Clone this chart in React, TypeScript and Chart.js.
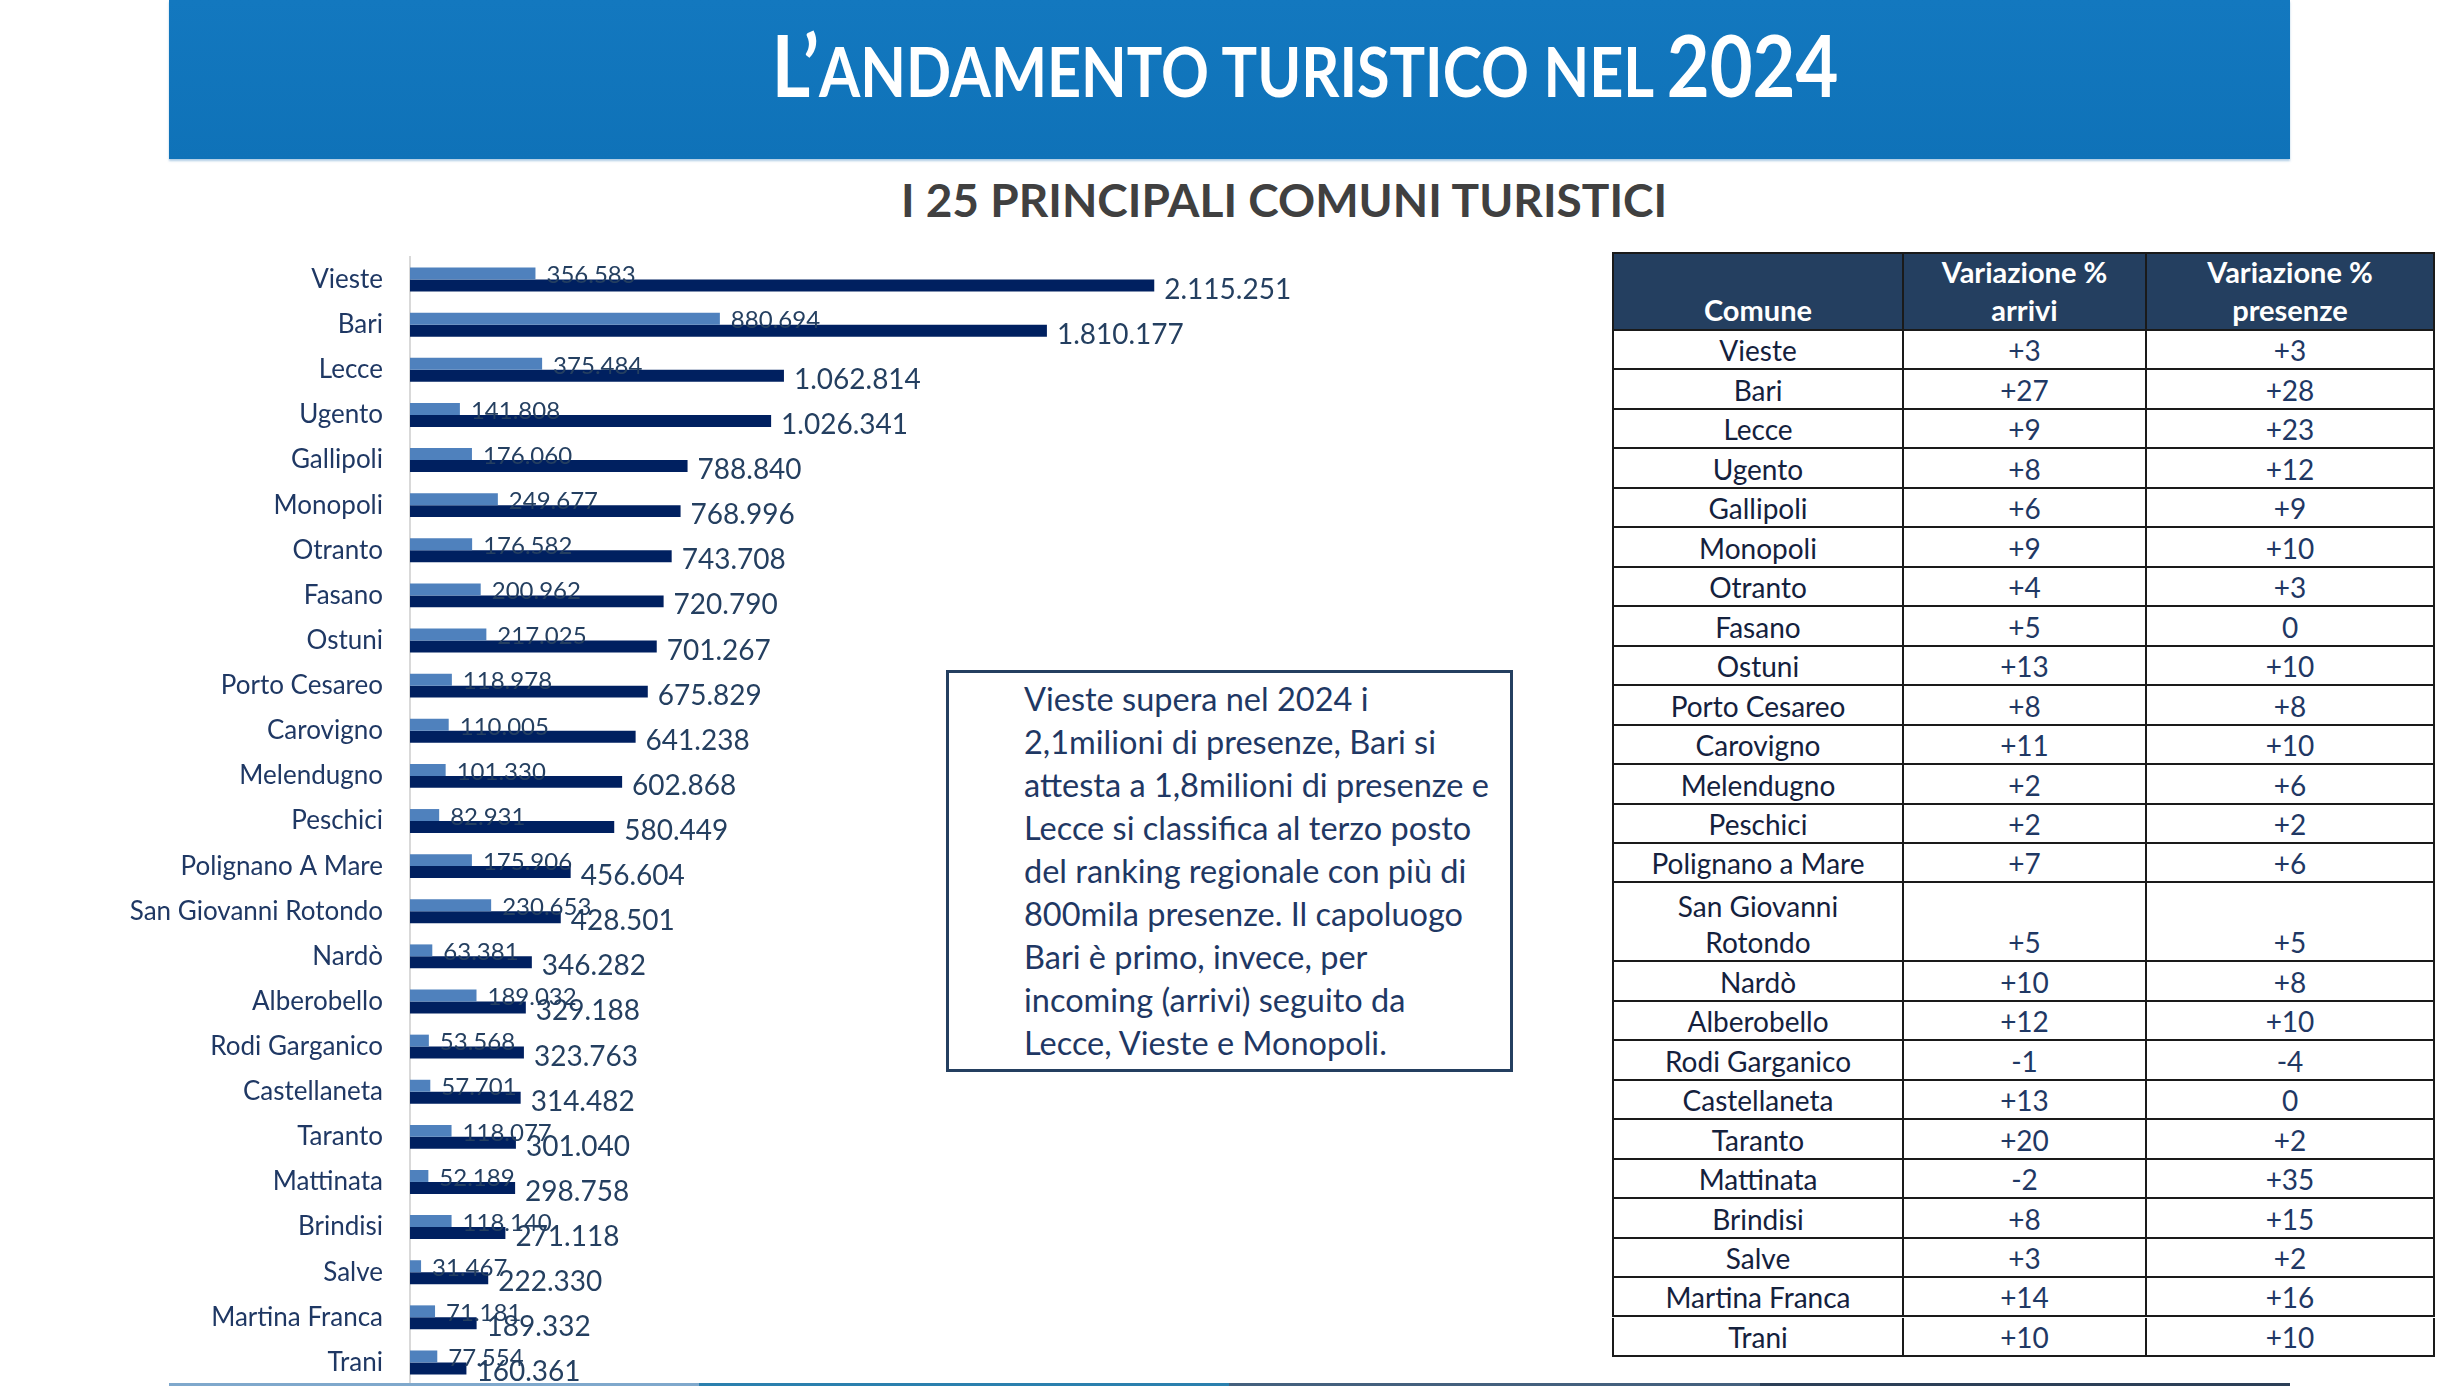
import React, { useEffect, useRef } from "react";
import { Chart, registerables } from "chart.js";

Chart.register(...registerables);

// ---------- DATA ----------
const comuni = [
  "Vieste", "Bari", "Lecce", "Ugento", "Gallipoli", "Monopoli", "Otranto", "Fasano",
  "Ostuni", "Porto Cesareo", "Carovigno", "Melendugno", "Peschici", "Polignano A Mare",
  "San Giovanni Rotondo", "Nardò", "Alberobello", "Rodi Garganico", "Castellaneta",
  "Taranto", "Mattinata", "Brindisi", "Salve", "Martina Franca", "Trani",
];
const arrivi = [
  356583, 880694, 375484, 141808, 176060, 249677, 176582, 200962, 217025, 118978,
  110005, 101330, 82931, 175906, 230653, 63381, 189032, 53568, 57701, 118077,
  52189, 118140, 31467, 71181, 77554,
];
const presenze = [
  2115251, 1810177, 1062814, 1026341, 788840, 768996, 743708, 720790, 701267, 675829,
  641238, 602868, 580449, 456604, 428501, 346282, 329188, 323763, 314482, 301040,
  298758, 271118, 222330, 189332, 160361,
];

const tableComuni = [
  "Vieste", "Bari", "Lecce", "Ugento", "Gallipoli", "Monopoli", "Otranto", "Fasano",
  "Ostuni", "Porto Cesareo", "Carovigno", "Melendugno", "Peschici", "Polignano a Mare",
  "San Giovanni Rotondo", "Nardò", "Alberobello", "Rodi Garganico", "Castellaneta",
  "Taranto", "Mattinata", "Brindisi", "Salve", "Martina Franca", "Trani",
];
const varArrivi = [3, 27, 9, 8, 6, 9, 4, 5, 13, 8, 11, 2, 2, 7, 5, 10, 12, -1, 13, 20, -2, 8, 3, 14, 10];
const varPresenze = [3, 28, 23, 12, 9, 10, 3, 0, 10, 8, 10, 6, 2, 6, 5, 8, 10, -4, 0, 2, 35, 15, 2, 16, 10];

const titleFirst = "L’";
const titleMiddle = "ANDAMENTO TURISTICO NEL";
const titleYear = "2024";
const subtitleText = "I 25 PRINCIPALI COMUNI TURISTICI";
const noteLines = [
  "Vieste supera nel 2024 i",
  "2,1milioni di presenze, Bari si",
  "attesta a 1,8milioni di presenze e",
  "Lecce si classifica al terzo posto",
  "del ranking regionale con più di",
  "800mila presenze. Il capoluogo",
  "Bari è primo, invece, per",
  "incoming (arrivi) seguito da",
  "Lecce, Vieste e Monopoli.",
];

// ---------- HELPERS ----------
const fmtIt = (v: number) => String(v).replace(/\B(?=(\d{3})+(?!\d))/g, ".");
const fmtVar = (v: number) => (v > 0 ? "+" + v : String(v));

const FONT = "Lato, 'Noto Sans', sans-serif";
const NAVY = "#1F3864";

const barLabelPlugin = {
  id: "barLabels",
  afterDatasetsDraw(chart: any) {
    const ctx = chart.ctx;
    chart.data.datasets.forEach((ds: any, di: number) => {
      const meta = chart.getDatasetMeta(di);
      meta.data.forEach((el: any, i: number) => {
        ctx.save();
        ctx.font = di === 0 ? "24px Lato" : "28px Lato";
        ctx.fillStyle = "#243F60";
        ctx.textAlign = "left";
        ctx.textBaseline = "middle";
        ctx.fillText(fmtIt(ds.data[i]), el.x + (di === 0 ? 11 : 10), el.y + (di === 0 ? 2 : 4));
        ctx.restore();
      });
    });
  },
};

function BarChart() {
  const ref = useRef<HTMLCanvasElement | null>(null);
  useEffect(() => {
    if (!ref.current) return;
    const chart = new Chart(ref.current, {
      type: "bar",
      data: {
        labels: comuni,
        datasets: [
          {
            label: "Arrivi",
            data: arrivi,
            backgroundColor: "#4F81BD",
            barPercentage: 1,
            categoryPercentage: 0.53,
          },
          {
            label: "Presenze",
            data: presenze,
            backgroundColor: "#002060",
            barPercentage: 1,
            categoryPercentage: 0.53,
          },
        ],
      },
      options: {
        indexAxis: "y",
        animation: false,
        responsive: false,
        maintainAspectRatio: false,
        layout: { padding: { top: 17, bottom: 2, left: 0, right: 0 } },
        plugins: { legend: { display: false }, tooltip: { enabled: false } },
        scales: {
          x: { display: false, min: 0, max: 2700000 },
          y: {
            grid: { display: false, drawTicks: false },
            border: { display: true, color: "#D9D9D9", width: 2 },
            ticks: { padding: 27, color: NAVY, font: { family: "Lato", size: 26 } },
            afterFit: (s: any) => {
              s.width = 310;
              s.paddingTop = 0;
              s.paddingBottom = 0;
            },
          },
        },
      } as any,
      plugins: [barLabelPlugin],
    });
    return () => chart.destroy();
  }, []);
  return (
    <canvas
      ref={ref}
      width={1260}
      height={1147}
      style={{ position: "absolute", left: 100, top: 240, width: 1260, height: 1147 }}
    />
  );
}

function Table() {
  const colW = [292, 243, 288];
  const left = 1612;
  const top = 252;
  const headH = 79;
  const baseH = 39.46;
  const rowH = (name: string) => (name.length > 17 ? baseH * 2 : baseH);
  const border = "2px solid #1a1a1a";
  const cell = (w: number, extra: any = {}) => ({
    width: w,
    height: "100%",
    boxSizing: "border-box" as const,
    borderRight: border,
    display: "flex",
    alignItems: "flex-end",
    justifyContent: "center",
    textAlign: "center" as const,
    ...extra,
  });
  let y = top + headH;
  const rows = tableComuni.map((n, i) => {
    const h = rowH(n);
    const r = (
      <div
        key={n}
        style={{
          position: "absolute",
          left,
          top: y,
          width: 823,
          height: h,
          display: "flex",
          borderLeft: border,
          borderBottom: border,
          boxSizing: "border-box",
          fontSize: 28,
          lineHeight: "36px",
        }}
      >
        <div style={cell(colW[0] - 2, { color: "#14213D" })}>
          <span style={{ display: "inline-block", maxWidth: 250 }}>{n}</span>
        </div>
        <div style={cell(colW[1], { color: NAVY })}>{fmtVar(varArrivi[i])}</div>
        <div style={cell(colW[2], { color: NAVY })}>{fmtVar(varPresenze[i])}</div>
      </div>
    );
    y += h;
    return r;
  });
  return (
    <div style={{ fontFamily: FONT }}>
      <div
        style={{
          position: "absolute",
          left,
          top,
          width: 823,
          height: headH,
          display: "flex",
          background: "#243F60",
          border: border,
          borderRight: "none",
          boxSizing: "border-box",
          color: "#fff",
          fontWeight: 700,
          fontSize: 29,
          lineHeight: "38px",
        }}
      >
        <div style={cell(colW[0] - 2)}>Comune</div>
        <div style={cell(colW[1])}>Variazione %<br />arrivi</div>
        <div style={cell(colW[2])}>Variazione %<br />presenze</div>
      </div>
      {rows}
    </div>
  );
}

export default function App() {
  return (
    <div
      style={{
        position: "absolute",
        left: 0,
        top: 0,
        width: 2461,
        height: 1387,
        overflow: "hidden",
        background: "#fff",
        fontFamily: FONT,
      }}
    >
      <div
        style={{
          position: "absolute",
          left: 169,
          top: 0,
          width: 2121,
          height: 159,
          background: "linear-gradient(#1378BF, #0F72B8)",
          boxShadow: "0 2px 2px rgba(120,170,210,0.6)",
        }}
      />
      <div
        style={{
          position: "absolute",
          left: 305,
          top: 14,
          width: 2000,
          textAlign: "center",
          color: "#fff",
          fontWeight: 700,
          lineHeight: "100px",
          whiteSpace: "nowrap",
          transform: "scaleX(0.86)",
          transformOrigin: "50% 50%",
        }}
      >
        <span style={{ fontSize: 86 }}>{titleFirst}</span>
        <span style={{ fontSize: 69 }}>{titleMiddle} </span>
        <span style={{ fontSize: 86 }}>{titleYear}</span>
      </div>
      <div
        style={{
          position: "absolute",
          left: 169,
          top: 172,
          width: 2230,
          textAlign: "center",
          color: "#404040",
          fontWeight: 700,
          fontSize: 46,
          lineHeight: "56px",
        }}
      >
        {subtitleText}
      </div>

      <BarChart />

      <div
        style={{
          position: "absolute",
          left: 946,
          top: 670,
          width: 567,
          height: 402,
          boxSizing: "border-box",
          border: "3px solid #243F60",
          background: "#fff",
          paddingLeft: 75,
          paddingTop: 4,
          color: NAVY,
          fontSize: 32.5,
          lineHeight: "43px",
          whiteSpace: "nowrap",
        }}
      >
        {noteLines.map((l) => (
          <div key={l}>{l}</div>
        ))}
      </div>

      <Table />

      <div
        style={{
          position: "absolute",
          left: 169,
          top: 1383,
          width: 2121,
          height: 3,
          background:
            "linear-gradient(to right, #7FA8CC 0%, #7FA8CC 25%, #2A80AE 25%, #2A80AE 50%, #44607E 50%, #44607E 75%, #2C3F57 75%, #2C3F57 100%)",
        }}
      />
    </div>
  );
}
